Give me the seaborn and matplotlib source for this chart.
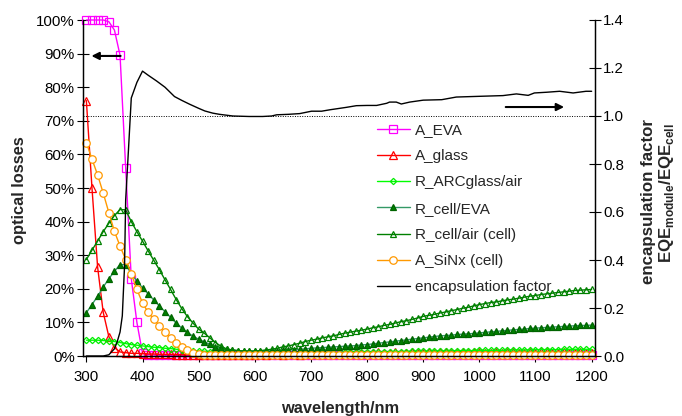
import matplotlib
matplotlib.use("Agg")
import matplotlib.pyplot as plt
import seaborn as sns
from matplotlib.ticker import FormatStrFormatter, MultipleLocator, PercentFormatter

# wavelength grid (nm) shared by the optical-loss curves
wavelength = list(range(300, 1201, 10))

# optical losses in %
a_eva = [
    100, 100, 100, 100, 99.5, 97, 89.5, 56, 23, 10,
    0.8, 0.4, 0.3, 0.2, 0.2, 0.2, 0.2, 0.2, 0.2, 0.2,
    0.2, 0.2, 0.2, 0.2, 0.2, 0.2, 0.2, 0.2, 0.2, 0.2,
    0.2, 0.2, 0.2, 0.2, 0.2, 0.2, 0.2, 0.2, 0.2, 0.2,
    0.2, 0.2, 0.2, 0.2, 0.2, 0.2, 0.2, 0.2, 0.2, 0.2,
    0.2, 0.2, 0.2, 0.2, 0.2, 0.2, 0.2, 0.2, 0.2, 0.2,
    0.2, 0.2, 0.2, 0.2, 0.2, 0.2, 0.2, 0.2, 0.2, 0.2,
    0.2, 0.2, 0.2, 0.2, 0.2, 0.2, 0.2, 0.2, 0.2, 0.2,
    0.2, 0.2, 0.2, 0.2, 0.2, 0.2, 0.2, 0.2, 0.2, 0.2,
    0.2,
]
a_glass = [
    76, 50, 26.5, 13, 5.8, 2.5, 1.2, 1.0, 0.8, 0.8,
    0.7, 0.6, 0.6, 0.5, 0.5, 0.5, 0.4, 0.4, 0.4, 0.4,
    0.4, 0.4, 0.3, 0.4, 0.4, 0.3, 0.4, 0.4, 0.4, 0.4,
    0.4, 0.5, 0.4, 0.5, 0.5, 0.4, 0.6, 0.5, 0.4, 0.6,
    0.5, 0.7, 0.5, 0.6, 0.8, 0.5, 0.7, 0.9, 0.6, 1.0,
    0.6, 0.9, 1.1, 0.6, 0.9, 1.2, 0.7, 1.0, 1.3, 0.8,
    1.0, 1.3, 0.8, 1.1, 1.2, 0.8, 1.0, 1.3, 0.9, 1.1,
    1.2, 0.9, 1.0, 1.3, 0.9, 1.1, 1.2, 0.9, 1.0, 1.2,
    0.9, 1.1, 1.2, 0.9, 1.0, 1.1, 0.9, 1.0, 1.1, 0.9,
    1.0,
]
r_arc_glass_air = [
    4.7, 4.7, 4.7, 4.6, 4.5, 4.3, 4.0, 3.7, 3.4, 3.2,
    3.0, 2.8, 2.6, 2.5, 2.3, 2.2, 2.0, 1.9, 1.8, 1.6,
    1.5, 1.4, 1.3, 1.2, 1.1, 1.0, 1.0, 0.9, 0.9, 0.8,
    0.8, 0.8, 0.8, 0.8, 0.8, 0.8, 0.8, 0.9, 0.9, 0.9,
    0.9, 0.9, 1.0, 1.0, 1.0, 1.0, 1.1, 1.1, 1.1, 1.1,
    1.2, 1.2, 1.2, 1.2, 1.3, 1.3, 1.3, 1.3, 1.4, 1.4,
    1.4, 1.4, 1.5, 1.5, 1.5, 1.5, 1.6, 1.6, 1.6, 1.6,
    1.7, 1.7, 1.7, 1.7, 1.7, 1.8, 1.8, 1.8, 1.8, 1.8,
    1.9, 1.9, 1.9, 1.9, 1.9, 2.0, 2.0, 2.0, 2.0, 2.0,
    2.0,
]
r_cell_eva = [
    12.9, 15.3, 17.8, 20.5, 23.0, 25.2, 27.2, 27.2, 24.5, 22.3,
    20.3, 18.5, 16.7, 14.9, 13.2, 11.5, 9.8, 8.3, 7.0, 5.9,
    5.0, 4.2, 3.5, 2.8, 2.3, 2.0, 1.8, 1.6, 1.5, 1.4,
    1.4, 1.4, 1.5, 1.5, 1.6, 1.7, 1.8, 1.9, 2.0, 2.1,
    2.3, 2.4, 2.5, 2.6, 2.7, 2.8, 2.9, 3.0, 3.1, 3.3,
    3.4, 3.6, 3.8, 4.0, 4.2, 4.4, 4.6, 4.8, 5.0, 5.2,
    5.4, 5.6, 5.8, 6.0, 6.1, 6.2, 6.4, 6.5, 6.6, 6.7,
    6.9, 7.0, 7.2, 7.3, 7.5, 7.6, 7.8, 7.9, 8.0, 8.2,
    8.3, 8.4, 8.5, 8.6, 8.7, 8.8, 8.9, 9.0, 9.1, 9.1,
    9.2,
]
r_cell_air = [
    28.7, 31.5, 34.2, 37.0, 39.5, 41.8, 43.6, 43.5, 40.0, 37.0,
    34.2, 31.3, 28.5, 25.7, 22.7, 19.8, 16.8, 14.1, 11.7, 9.8,
    8.0, 6.8, 5.4, 4.0, 2.9, 2.1, 1.8, 1.6, 1.5, 1.5,
    1.5, 1.6, 1.8, 2.0, 2.3, 2.7, 3.0, 3.4, 3.8, 4.3,
    4.7, 5.0, 5.4, 5.7, 6.0, 6.4, 6.8, 7.1, 7.4, 7.7,
    8.0, 8.4, 8.7, 9.1, 9.4, 9.8, 10.2, 10.5, 10.9, 11.3,
    11.8, 12.1, 12.4, 12.8, 13.1, 13.5, 13.8, 14.2, 14.5, 14.9,
    15.3, 15.6, 15.9, 16.1, 16.4, 16.7, 16.9, 17.2, 17.5, 17.8,
    18.0, 18.3, 18.5, 18.7, 18.9, 19.1, 19.3, 19.5, 19.6, 19.7,
    19.8,
]
a_sinx = [
    63.5, 58.6, 53.9, 48.5, 42.7, 37.1, 32.7, 28.7, 24.5, 19.8,
    15.8, 13.0, 11.0, 9.0, 7.0, 5.3, 3.9, 2.8, 1.8, 1.0,
    0.5, 0.3, 0.3, 0.3, 0.3, 0.3, 0.3, 0.3, 0.3, 0.3,
    0.3, 0.3, 0.3, 0.3, 0.3, 0.3, 0.3, 0.3, 0.3, 0.3,
    0.3, 0.3, 0.3, 0.3, 0.3, 0.3, 0.3, 0.3, 0.3, 0.3,
    0.3, 0.3, 0.3, 0.3, 0.3, 0.3, 0.3, 0.3, 0.3, 0.3,
    0.3, 0.3, 0.3, 0.3, 0.3, 0.3, 0.3, 0.3, 0.3, 0.3,
    0.3, 0.3, 0.3, 0.3, 0.3, 0.3, 0.3, 0.3, 0.3, 0.3,
    0.3, 0.3, 0.3, 0.3, 0.3, 0.3, 0.3, 0.3, 0.3, 0.3,
    0.3,
]

# encapsulation factor EQE_module / EQE_cell (right axis)
enc_wavelength = [
    300, 310, 320, 330, 340, 350, 355, 360, 364, 368, 370, 375, 380, 390,
    400, 410, 425, 440, 457, 470, 484, 500, 511, 525, 537, 561, 590, 614,
    630, 639, 660, 680, 701, 719, 734, 763, 781, 800, 817, 835, 840, 852,
    861, 876, 900, 933, 959, 1000, 1042, 1066, 1087, 1098, 1120, 1143,
    1167, 1190, 1200,
]
enc_factor = [
    0, 0, 0, 0, 0.005, 0.03, 0.06, 0.1, 0.167, 0.375, 0.65, 0.86, 1.075, 1.14,
    1.187, 1.17, 1.146, 1.12, 1.081, 1.065, 1.049, 1.032, 1.021, 1.012, 1.007, 1.0, 0.998, 0.998,
    1.0, 1.005, 1.007, 1.01, 1.02, 1.02, 1.026, 1.036, 1.043, 1.044, 1.044, 1.053, 1.058, 1.058,
    1.05, 1.058, 1.066, 1.068, 1.079, 1.082, 1.085, 1.092, 1.086, 1.096, 1.099, 1.103,
    1.096, 1.103, 1.103,
]

sns.set_style("ticks")
plt.rcParams["font.family"] = ["Liberation Sans", "DejaVu Sans"]
plt.rcParams["mathtext.fontset"] = "custom"
plt.rcParams["mathtext.rm"] = "Liberation Sans"
plt.rcParams["mathtext.bf"] = "Liberation Sans:bold"

W, H = 682, 416
fig = plt.figure(figsize=(W / 100, H / 100), dpi=100)
ax = fig.add_axes([83 / W, 60 / H, 512 / W, 336 / H])
ax2 = ax.twinx()


def curve(axis, x, y, label, color, marker=None, ms=0, mfc=None, mec=None, lw=1.0):
    sns.lineplot(
        x=x, y=y, ax=axis, label=label, color=color, linewidth=lw,
        marker=marker, markersize=ms, markerfacecolor=mfc,
        markeredgecolor=mec, markeredgewidth=0.9, clip_on=False,
    )


curve(ax, wavelength, a_eva, "A_EVA", "#ff00ff", "s", 5.2, "none", "#ff00ff")
curve(ax, wavelength, a_glass, "A_glass", "#ff0000", "^", 5.8, "none", "#ff0000")
curve(ax, wavelength, r_arc_glass_air, "R_ARCglass/air", "#00ff00", "D", 3.2, "none", "#00ee00")
curve(ax, wavelength, r_cell_eva, "R_cell/EVA", "#339966", "^", 4.4, "#008000", "#006400")
curve(ax, wavelength, r_cell_air, "R_cell/air (cell)", "#008000", "^", 4.7, "none", "#008000")
curve(ax, wavelength, a_sinx, "A_SiNx (cell)", "#ff9900", "o", 5.4, "white", "#ff9900")
curve(ax2, enc_wavelength, enc_factor, "encapsulation factor", "black", lw=1.0)

# dotted reference line at factor 1.0
ax2.axhline(1.0, color="black", linestyle=(0, (1, 1.5)), linewidth=0.7)

ax.set_xlim(294, 1206)
ax.set_ylim(0, 100)
ax2.set_ylim(0, 1.4)
ax.set_xticks(range(300, 1201, 100))
ax.yaxis.set_major_locator(MultipleLocator(10))
ax.yaxis.set_major_formatter(PercentFormatter(100, decimals=0))
ax2.yaxis.set_major_locator(MultipleLocator(0.2))
ax2.yaxis.set_major_formatter(FormatStrFormatter("%.1f"))

ax.tick_params(axis="y", direction="inout", length=8, width=0.8, labelsize=10.8, pad=2, colors="black")
ax.tick_params(axis="x", direction="out", length=4, width=0.8, labelsize=10.8, pad=6, colors="black")
ax2.tick_params(axis="y", direction="inout", length=8, width=0.8, labelsize=10.8, pad=2, colors="black")
for a in (ax, ax2):
    a.spines["top"].set_visible(False)
    for s in ("left", "right", "bottom"):
        a.spines[s].set_linewidth(0.9)
        a.spines[s].set_color("black")
    a.set_xlabel("")
    a.set_ylabel("")

# direction arrows telling which axis belongs to which curve
ax.annotate("", xy=(309, 89.3), xytext=(361, 89.3),
            arrowprops=dict(arrowstyle="-|>", color="black", lw=1.5, mutation_scale=11, shrinkA=0, shrinkB=0))
ax.annotate("", xy=(1151, 74.1), xytext=(1047, 74.1),
            arrowprops=dict(arrowstyle="-|>", color="black", lw=1.5, mutation_scale=11, shrinkA=0, shrinkB=0))

h1, l1 = ax.get_legend_handles_labels()
h2, l2 = ax2.get_legend_handles_labels()
if ax.get_legend():
    ax.get_legend().remove()
ax2.legend(h1 + h2, l1 + l2, loc="upper left", bbox_to_anchor=(377 / W, 1 - 123 / H),
           bbox_transform=fig.transFigure, frameon=False, borderpad=0, borderaxespad=0,
           handlelength=2.16, handletextpad=0.3, labelspacing=0.8, fontsize=11)

fig.text(20 / W, 1 - 190 / H, "optical losses", rotation=90, ha="center", va="center",
         fontsize=11.8, fontweight="bold")
fig.text(340 / W, 1 - 408 / H, "wavelength/nm", ha="center", va="center",
         fontsize=11.8, fontweight="bold")
fig.text(649 / W, 1 - 201 / H, "encapsulation factor", rotation=90, ha="center", va="center",
         fontsize=12.2, fontweight="bold")
fig.text(666 / W, 1 - 193 / H, r"$\mathbf{EQE}_{\mathbf{module}}\mathbf{/EQE}_{\mathbf{cell}}$",
         rotation=90, ha="center", va="center", fontsize=12.2)

fig.savefig("out.png", dpi=100, facecolor="white")
